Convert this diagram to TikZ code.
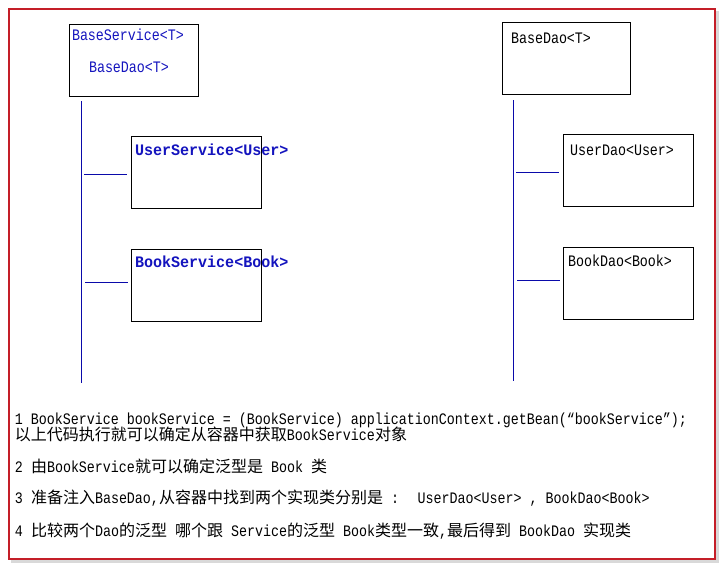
\documentclass[tikz,border=0pt]{standalone}
\usepackage{fontspec}
\setmainfont{Liberation Mono}[FakeStretch=0.8333]
\newfontfamily\boldmono{Liberation Mono}[FakeStretch=0.94]
\newfontfamily\cjk{Noto Sans CJK SC}
\newcommand{\zhtxt}[1]{{\cjk\fontsize{16}{16}\selectfont #1}}
\definecolor{framered}{RGB}{196,30,40}
\definecolor{linkblue}{RGB}{10,10,170}
\definecolor{textblue}{RGB}{20,20,190}
\tikzset{
  classbox/.style={draw=black, line width=1pt, anchor=north west, inner sep=0pt, outer sep=0pt},
  lbl/.style={anchor=base west, inner sep=0pt, outer sep=0pt, font=\fontsize{16}{16}\selectfont},
  blbl/.style={lbl, text=textblue},
  boldlbl/.style={lbl, text=textblue, font=\fontsize{16}{16}\selectfont\boldmono\bfseries},
  link/.style={draw=linkblue, line width=1.2pt},
}
\begin{document}
\begin{tikzpicture}[x=1pt,y=-1pt]
\useasboundingbox (0,0) rectangle (724,568);
% frame with shadow
\fill[gray!30] (11,11) rectangle (719,563);
\draw[framered, fill=white, line width=2pt] (9,9) rectangle (715,559);

% left column
\node[classbox, minimum width=129pt, minimum height=72pt] (bs) at (69.5,24.5) {};
\node[blbl] (bsT) at (72,40) {BaseService<T>};
\node[blbl] (bsD) at (89,72) {BaseDao<T>};
\node[classbox, minimum width=130pt, minimum height=72pt] (us) at (131.5,136.5) {};
\node[boldlbl] (usT) at (135,155) {UserService<User>};
\node[classbox, minimum width=130pt, minimum height=72pt] (bks) at (131.5,249.5) {};
\node[boldlbl] (bksT) at (135,267) {BookService<Book>};

\coordinate (lt) at (81.5,101);
\coordinate (lb) at (81.5,383);
\draw[link] (lt) -- (lb);
\coordinate (l1a) at (84,174.5);
\coordinate (l1b) at (127,174.5);
\draw[link] (l1a) -- (l1b);
\coordinate (l2a) at (85,282.5);
\coordinate (l2b) at (128,282.5);
\draw[link] (l2a) -- (l2b);

% right column
\node[classbox, minimum width=128pt, minimum height=72pt] (bd) at (502.5,22.5) {};
\node[lbl] (bdT) at (511,43) {BaseDao<T>};
\node[classbox, minimum width=130pt, minimum height=72pt] (ud) at (563.5,134.5) {};
\node[lbl] (udT) at (570,155) {UserDao<User>};
\node[classbox, minimum width=130pt, minimum height=72pt] (bkd) at (563.5,247.5) {};
\node[lbl] (bkdT) at (568,266) {BookDao<Book>};

\coordinate (rt) at (513.5,100);
\coordinate (rb) at (513.5,381);
\draw[link] (rt) -- (rb);
\coordinate (r1a) at (516,172.5);
\coordinate (r1b) at (559,172.5);
\draw[link] (r1a) -- (r1b);
\coordinate (r2a) at (517,280.5);
\coordinate (r2b) at (560,280.5);
\draw[link] (r2a) -- (r2b);

% notes
\node[lbl] (n1) at (15,424) {1 BookService bookService = (BookService) applicationContext.getBean(“bookService”);};
\node[lbl] (n1b) at (15,440) {\zhtxt{以上代码执行就可以确定从容器中获取}BookService\zhtxt{对象}};
\node[lbl] (n2) at (15,472) {2 \zhtxt{由}BookService\zhtxt{就可以确定泛型是} Book \zhtxt{类}};
\node[lbl] (n3) at (15,503) {3 \zhtxt{准备注入}BaseDao,\zhtxt{从容器中找到两个实现类分别是} :~ UserDao<User> , BookDao<Book>};
\node[lbl] (n4) at (15,536) {4 \zhtxt{比较两个}Dao\zhtxt{的泛型} \zhtxt{哪个跟} Service\zhtxt{的泛型} Book\zhtxt{类型一致},\zhtxt{最后得到} BookDao \zhtxt{实现类}};
\end{tikzpicture}
\end{document}
